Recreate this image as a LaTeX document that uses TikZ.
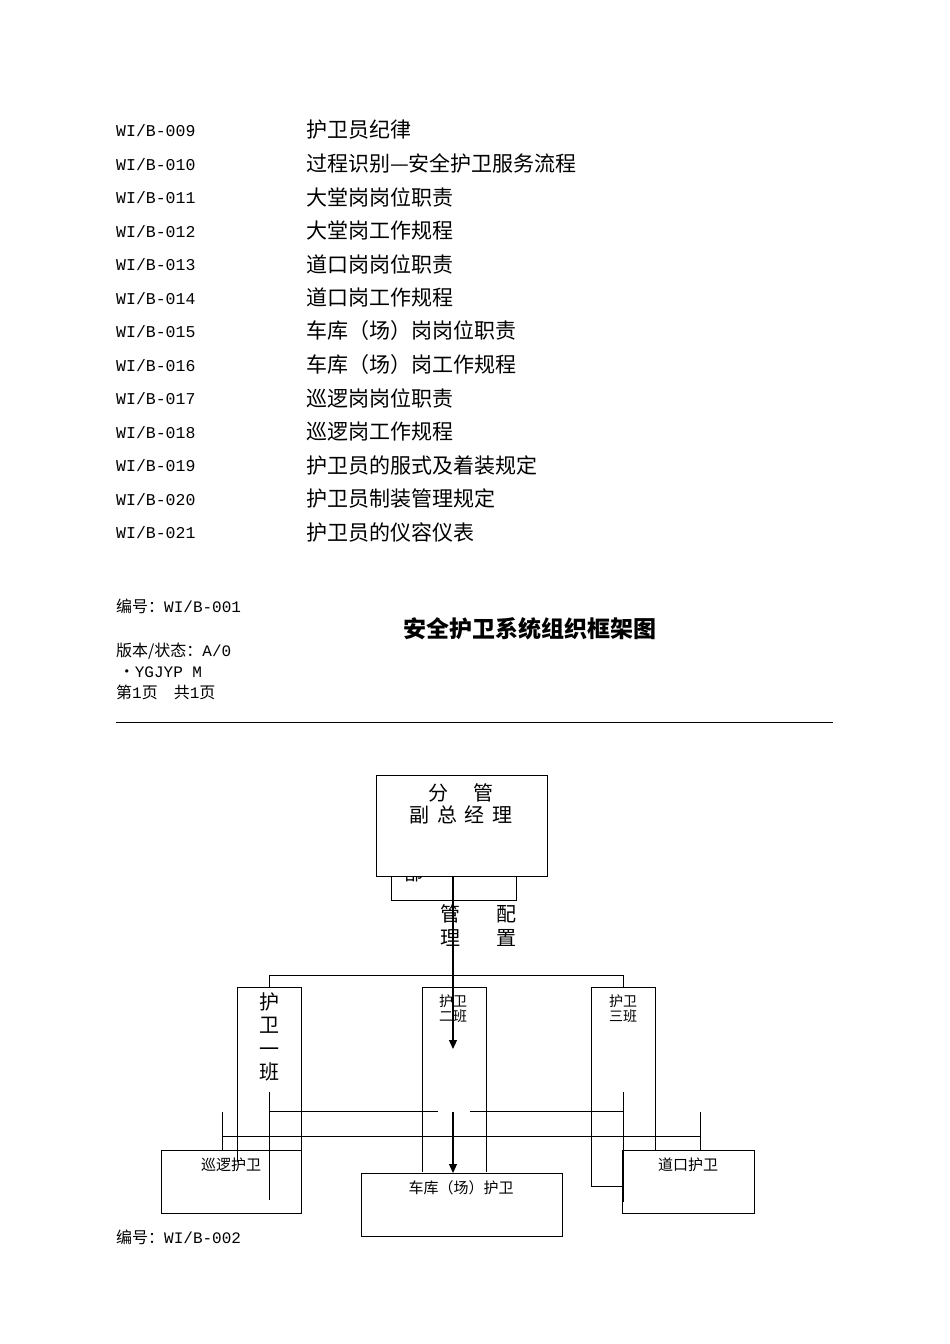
\documentclass[tikz,border=0pt]{standalone}
\usepackage{fontspec}
\setmainfont{Noto Sans CJK SC}
\newfontfamily\lat{Liberation Mono}
\usetikzlibrary{arrows.meta}
\begin{document}
\begin{tikzpicture}[x=1pt,y=-1pt,
  txt/.style={inner sep=0pt,anchor=west,font=\fontsize{21}{21}\selectfont},
  sm/.style={inner sep=0pt,font=\fontsize{14}{15}\selectfont,align=center},
  ln/.style={line width=0.9pt},
  box/.style={draw,line width=1pt}]
\useasboundingbox[fill=white] (0,0) rectangle (950,1344);
\foreach \c/\t [count=\i from 0] in {009/护卫员纪律,010/过程识别—安全护卫服务流程,011/大堂岗岗位职责,012/大堂岗工作规程,013/道口岗岗位职责,014/道口岗工作规程,015/车库（场）岗岗位职责,016/车库（场）岗工作规程,017/巡逻岗岗位职责,018/巡逻岗工作规程,019/护卫员的服式及着装规定,020/护卫员制装管理规定,021/护卫员的仪容仪表}{
  \node[txt,font=\fontsize{16.5}{17}\lat] (c\i) at (116,{131+33.5*\i}) {WI/B-\c};
  \node[txt] (t\i) at (306,{130+33.5*\i}) {\t};
}
\node[txt,font=\fontsize{16}{16}\selectfont] (h1) at (116,606) {编号：{\lat WI/B-001}};
\node[txt,font=\fontsize{16}{16}\selectfont] (h2) at (116,651) {版本/状态：{\lat A/0}};
\node[txt,font=\fontsize{16}{16}\selectfont] (h3) at (116,672) {\,•{\lat YGJYP M}};
\node[txt,font=\fontsize{16}{16}\selectfont] (h4) at (116,692) {第{\lat 1}页\quad 共{\lat 1}页};
\node[txt,font=\fontsize{23}{23}\selectfont\bfseries] (title) at (403,629) {安全护卫系统组织框架图};
\draw[line width=0.8pt] (116,722) -- (833,722);
% top
\draw[box] (391,876) rectangle (516,900);
\begin{scope}
\clip (392,877) rectangle (515,899);
\node[sm,font=\fontsize{19}{19}\selectfont] (bu) at (414,873) {部};
\end{scope}
\draw[box,fill=white] (376,775) rectangle (547,876);
\node[sm,font=\fontsize{20}{22}\selectfont] (gm) at (461,804) {分\quad\ 管\\副\,\ 总\,\ 经\,\ 理};
\coordinate (ta) at (453,876);
\coordinate (ar1) at (453,1049);
\draw[line width=1.2pt,-{Triangle[length=9pt,width=8pt]}] (ta) -- (ar1);
\node[sm,font=\fontsize{20}{24}\selectfont] (gl) at (450,926) {管\\理};
\node[sm,font=\fontsize{20}{24}\selectfont] (pz) at (506,926) {配\\置};
\draw[ln] (269,987) -- (269,975) -- (623,975) -- (623,987);
% class boxes
\draw[box] (237,1162) -- (237,987) -- (301,987) -- (301,1150);
\node[sm,font=\fontsize{20}{23.5}\selectfont] (b1) at (269,1037) {护\\卫\\一\\班};
\draw[box] (422,1172) -- (422,987) -- (486,987) -- (486,1172);
\node[sm] (b2) at (453,1009) {护卫\\二班};
\draw[box] (622,1186) -- (591,1186) -- (591,987) -- (655,987) -- (655,1150);
\node[sm] (b3) at (623,1009) {护卫\\三班};
\coordinate (g1) at (453,1112);
\coordinate (ar2) at (453,1173);
\draw[line width=1.2pt,-{Triangle[length=9pt,width=8pt]}] (g1) -- (ar2);
\draw[ln] (269,1092) -- (269,1200);
\draw[ln] (623,1092) -- (623,1202);
\draw[ln] (269,1111) -- (438,1111);
\draw[ln] (470,1111) -- (623,1111);
\draw[ln] (222,1150) -- (222,1112);
\draw[ln] (700,1150) -- (700,1112);
\draw[ln] (222,1136) -- (700,1136);
% bottom boxes
\draw[box] (161,1150) rectangle (301,1213);
\node[sm,font=\fontsize{15}{15}\selectfont] (x1) at (231,1165) {巡逻护卫};
\draw[box] (361,1173) rectangle (562,1236);
\node[sm,font=\fontsize{15}{15}\selectfont] (x2) at (461,1188) {车库（场）护卫};
\draw[box] (622,1150) rectangle (754,1213);
\node[sm,font=\fontsize{15}{15}\selectfont] (x3) at (688,1165) {道口护卫};
\node[txt,font=\fontsize{16}{16}\selectfont] (f1) at (116,1237) {编号：{\lat WI/B-002}};
\end{tikzpicture}
\end{document}
